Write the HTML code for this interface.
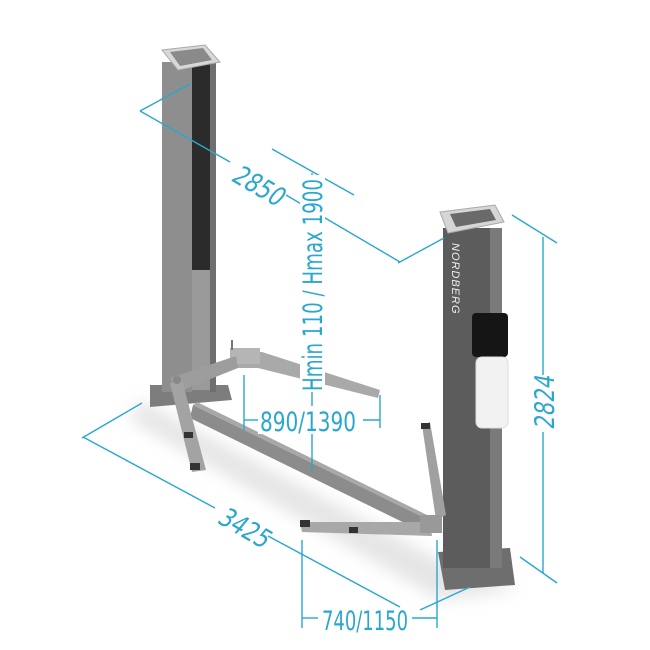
<!DOCTYPE html>
<html><head><meta charset="utf-8"><style>
html,body{margin:0;padding:0;background:#fff}
svg{display:block}
.d{stroke:#2aa7cf;stroke-width:1.4;fill:none}
.t{fill:#2aa7cf;font-family:"DejaVu Sans Condensed","Liberation Sans",sans-serif;font-size:27px}
</style></head><body>
<svg width="650" height="650" viewBox="0 0 650 650" xmlns="http://www.w3.org/2000/svg">
<defs><filter id="b"><feGaussianBlur stdDeviation="8"/></filter></defs>
<path d="M140 400 L440 560 L520 590 L440 600 L130 420Z" fill="#ccc" opacity="0.5" filter="url(#b)"/>
<!-- left post -->
<polygon points="150,385 228,385 232,400 150,407" fill="#7d7d7d"/>
<rect x="162" y="62" width="30" height="330" fill="#8e8e8e"/>
<rect x="192" y="62" width="20" height="210" fill="#2b2b2b"/>
<rect x="192" y="270" width="22" height="120" fill="#9a9a9a"/>
<rect x="210" y="62" width="6" height="330" fill="#6f6f6f"/>
<polygon points="162,50 205,45 220,62 178,70" fill="#d8d8d8" stroke="#aaa"/>
<polygon points="170,52 203,48 212,60 180,66" fill="#8a8a8a"/>
<!-- beam -->
<polygon points="193,405 425,518 423,532 190,418" fill="#8c8c8c"/>
<polygon points="193,405 425,518 427,515 197,402" fill="#a8a8a8"/>
<!-- left arms -->
<polygon points="236,352 262,352 380,390 378,398 258,368 236,368" fill="#a9a9a9"/>
<rect x="230" y="348" width="30" height="16" fill="#b5b5b5"/>
<line x1="232" y1="340" x2="232" y2="350" stroke="#777" stroke-width="2"/>
<polygon points="170,378 236,356 238,368 178,392" fill="#9d9d9d"/>
<polygon points="170,383 182,380 206,470 192,472" fill="#a3a3a3"/>
<rect x="184" y="432" width="9" height="6" fill="#333"/>
<rect x="190" y="463" width="10" height="7" fill="#333"/>
<circle cx="177" cy="380" r="4" fill="#888"/>
<!-- right post -->
<polygon points="438,552 510,548 515,585 445,590" fill="#6e6e6e"/>
<rect x="443" y="228" width="55" height="340" fill="#5c5c5c"/>
<rect x="490" y="228" width="12" height="340" fill="#7a7a7a"/>
<polygon points="440,212 495,205 504,222 448,233" fill="#d6d6d6" stroke="#aaa"/>
<polygon points="450,214 490,209 496,220 456,227" fill="#6a6a6a"/>
<text x="0" y="0" transform="translate(452,243) rotate(90)" fill="#eee" font-family="Liberation Sans,sans-serif" font-style="italic" font-size="11" letter-spacing="1">NORDBERG</text>
<rect x="472" y="313" width="36" height="44" rx="4" fill="#151515"/>
<rect x="476" y="357" width="32" height="71" rx="6" fill="#f2f2f2" stroke="#ddd"/>
<!-- right arms -->
<polygon points="300,522 430,522 432,536 302,532" fill="#a8a8a8"/>
<rect x="300" y="520" width="10" height="7" fill="#333"/>
<rect x="349" y="527" width="9" height="6" fill="#333"/>
<polygon points="422,425 430,422 446,515 436,520" fill="#a0a0a0"/>
<rect x="421" y="423" width="9" height="6" fill="#333"/>
<rect x="420" y="515" width="22" height="18" fill="#999"/>
<!-- dimension lines -->
<g class="d">
<line x1="140" y1="111" x2="230" y2="162"/>
<line x1="286" y1="195" x2="400" y2="262"/>
<line x1="140" y1="111" x2="190" y2="84"/>
<line x1="398" y1="263" x2="444" y2="238"/>
<line x1="272" y1="149" x2="354" y2="195"/>
<line x1="312" y1="173" x2="312" y2="470"/>
<line x1="244" y1="375" x2="244" y2="430"/>
<line x1="244" y1="420" x2="258" y2="420"/>
<line x1="363" y1="420" x2="380" y2="420"/>
<line x1="380" y1="395" x2="380" y2="428"/>
<line x1="543" y1="237" x2="543" y2="375"/>
<line x1="543" y1="432" x2="543" y2="573"/>
<line x1="512" y1="215" x2="557" y2="243"/>
<line x1="520" y1="557" x2="557" y2="583"/>
<line x1="83" y1="437" x2="215" y2="508"/>
<line x1="268" y1="536" x2="400" y2="607"/>
<line x1="82" y1="438" x2="142" y2="403"/>
<line x1="420" y1="610" x2="470" y2="587"/>
<line x1="302" y1="540" x2="302" y2="628"/>
<line x1="437" y1="540" x2="437" y2="628"/>
<line x1="302" y1="618" x2="318" y2="618"/>
<line x1="412" y1="618" x2="437" y2="618"/>
</g>
<rect x="300" y="175" width="25" height="217" fill="#fff"/>
<text class="t" transform="translate(322,391) rotate(-90)" x="0" y="0" textLength="212" lengthAdjust="spacingAndGlyphs">Hmin 110 / Hmax 1900</text>
<rect x="258" y="406" width="101" height="28" fill="#fff"/>
<text class="t" x="260" y="431" textLength="96" lengthAdjust="spacingAndGlyphs">890/1390</text>
<text class="t" x="322" y="630" textLength="86" lengthAdjust="spacingAndGlyphs">740/1150</text>
<text class="t" transform="translate(230,180) rotate(30) skewX(-10)" textLength="54" lengthAdjust="spacingAndGlyphs">2850</text>
<text class="t" transform="translate(216,522) rotate(30) skewX(-10)" textLength="54" lengthAdjust="spacingAndGlyphs">3425</text>
<text class="t" transform="translate(554,430) rotate(-90) skewX(-10)" textLength="54" lengthAdjust="spacingAndGlyphs">2824</text>
</svg>
</body></html>
